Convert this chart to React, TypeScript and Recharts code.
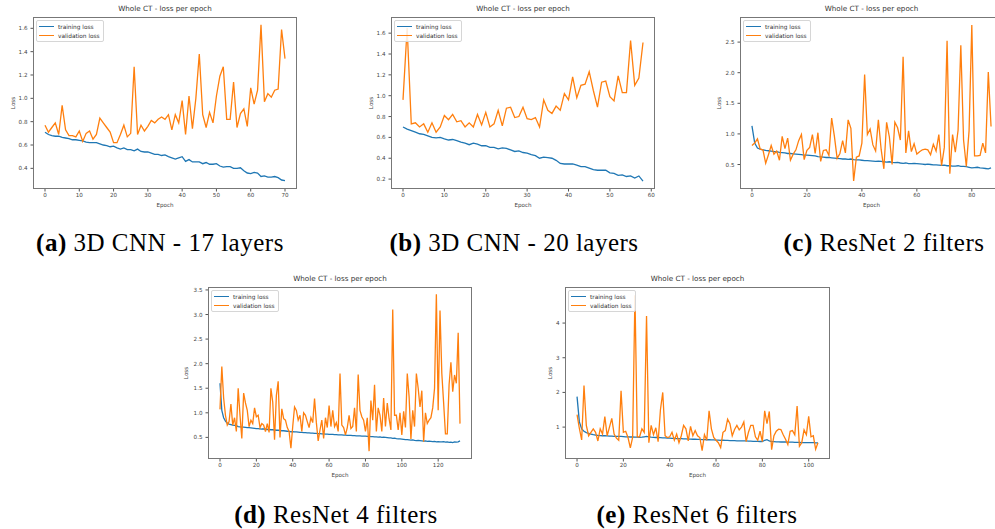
import { LineChart, Line, XAxis, YAxis } from 'recharts';

const BLUE = '#1f77b4';
const ORANGE = '#ff7f0e';

// (a) 3D CNN - 17 layers
const aTrain = [
  0.71, 0.69, 0.68, 0.675, 0.675, 0.665, 0.66, 0.655, 0.645, 0.645,
  0.64, 0.635, 0.625, 0.62, 0.62, 0.62, 0.61, 0.6, 0.595, 0.585,
  0.59, 0.575, 0.565, 0.575, 0.56, 0.56, 0.55, 0.565, 0.545, 0.54,
  0.54, 0.53, 0.52, 0.52, 0.51, 0.515, 0.5, 0.49, 0.48, 0.49,
  0.5, 0.46, 0.475, 0.455, 0.455, 0.455, 0.44, 0.45, 0.435, 0.435,
  0.44, 0.42, 0.41, 0.415, 0.415, 0.4, 0.4, 0.405, 0.38, 0.36,
  0.355, 0.365, 0.36, 0.33, 0.335, 0.325, 0.325, 0.33, 0.32, 0.3,
  0.295,
];
const aVal = [
  0.77, 0.71, 0.75, 0.79, 0.69, 0.94, 0.73, 0.68, 0.68, 0.67,
  0.72, 0.63, 0.7, 0.72, 0.65, 0.69, 0.83, 0.79, 0.75, 0.71,
  0.62, 0.62, 0.69, 0.77, 0.67, 0.7, 1.27, 0.69, 0.77, 0.72,
  0.76, 0.81, 0.79, 0.82, 0.84, 0.82, 0.86, 0.73, 0.86, 0.79,
  0.98, 0.69, 1.02, 0.74, 1.0, 1.38, 0.86, 0.75, 0.88, 0.79,
  1.02, 1.19, 1.27, 0.82, 0.82, 1.14, 0.75, 0.87, 0.91, 0.76,
  1.09, 0.95, 1.07, 1.63, 0.97, 1.04, 1.01, 1.07, 1.08, 1.59,
  1.34,
];

// (b) 3D CNN - 20 layers
const bTrain = [
  0.7, 0.68, 0.665, 0.65, 0.635, 0.63, 0.615, 0.6, 0.595, 0.6,
  0.585, 0.575, 0.58, 0.57, 0.555, 0.545, 0.53, 0.545, 0.535, 0.52,
  0.52, 0.505, 0.505, 0.49, 0.5, 0.495, 0.48, 0.465, 0.47, 0.455,
  0.45, 0.435, 0.425, 0.4, 0.41, 0.405, 0.4, 0.38, 0.35, 0.345,
  0.345, 0.345, 0.335, 0.32, 0.32, 0.305, 0.29, 0.285, 0.285, 0.285,
  0.26, 0.255, 0.235, 0.24, 0.225, 0.23, 0.21, 0.23, 0.18,
];
const bVal = [
  0.96, 1.65, 0.73, 0.74, 0.7, 0.73, 0.65, 0.74, 0.65, 0.7,
  0.81, 0.77, 0.82, 0.75, 0.76, 0.7, 0.74, 0.7, 0.82, 0.72,
  0.84, 0.7, 0.73, 0.86, 0.71, 0.88, 0.89, 0.79, 0.8, 0.89,
  0.78, 0.77, 0.79, 0.7, 0.96, 0.86, 0.83, 0.9, 0.86, 1.02,
  0.96, 1.18, 0.98, 1.1, 1.11, 1.23, 1.05, 0.89, 1.13, 1.14,
  0.99, 0.95, 1.19, 1.03, 1.03, 1.53, 1.1, 1.17, 1.51,
];

// (c) ResNet 2 filters
const cTrain = [
  1.13, 0.85, 0.77, 0.75, 0.74, 0.73, 0.725, 0.72, 0.71, 0.71,
  0.7, 0.695, 0.69, 0.68, 0.68, 0.675, 0.67, 0.665, 0.66, 0.655,
  0.655, 0.65, 0.645, 0.64, 0.63, 0.625, 0.62, 0.615, 0.615, 0.61,
  0.605, 0.6, 0.595, 0.59, 0.59, 0.585, 0.59, 0.58, 0.575, 0.575,
  0.57, 0.565, 0.565, 0.56, 0.555, 0.55, 0.555, 0.55, 0.545, 0.54,
  0.545, 0.535, 0.53, 0.535, 0.525, 0.52, 0.525, 0.515, 0.515, 0.52,
  0.515, 0.51, 0.505, 0.5, 0.505, 0.5, 0.495, 0.495, 0.49, 0.485,
  0.49, 0.48, 0.48, 0.475, 0.475, 0.48, 0.47, 0.47, 0.465, 0.455,
  0.445, 0.45, 0.455, 0.445, 0.44, 0.435, 0.43, 0.445,
];
const cVal = [
  0.81, 0.85, 0.92, 0.75, 0.74, 0.52, 0.66, 0.81, 0.67, 0.72,
  0.57, 0.96, 0.76, 0.93, 0.57, 0.67, 0.74, 0.89, 0.99, 0.58,
  0.73, 0.78, 0.99, 0.68, 1.02, 0.55, 0.73, 0.74, 0.65, 1.26,
  0.96, 0.6, 0.68, 0.89, 0.69, 1.23, 1.09, 0.23, 0.62, 0.64,
  0.85, 1.97, 0.99, 1.08, 0.82, 0.72, 1.23, 0.75, 0.43, 1.19,
  0.95, 0.5, 1.19, 1.1, 0.9, 2.26, 0.69, 1.05, 0.71, 0.84,
  0.67, 0.71, 0.74, 0.75, 0.74, 0.66, 0.83, 0.72, 0.99, 0.48,
  0.78, 2.52, 0.35, 0.99, 0.7, 1.06, 2.45, 0.9, 0.47, 1.05,
  2.78, 0.64, 0.64, 0.65, 0.85, 0.69, 2.01, 1.12,
];

// (d) ResNet 4 filters
const dTrain = [
  1.6, 1.05, 0.9, 0.83, 0.79, 0.77, 0.76, 0.75, 0.745, 0.74,
  0.72, 0.715, 0.71, 0.71, 0.705, 0.7, 0.7, 0.695, 0.69, 0.685,
  0.68, 0.68, 0.675, 0.67, 0.67, 0.665, 0.66, 0.66, 0.655, 0.655,
  0.65, 0.645, 0.645, 0.64, 0.635, 0.635, 0.63, 0.625, 0.62, 0.615,
  0.615, 0.61, 0.61, 0.605, 0.6, 0.6, 0.595, 0.595, 0.59, 0.59,
  0.585, 0.585, 0.58, 0.58, 0.575, 0.575, 0.57, 0.57, 0.565, 0.565,
  0.56, 0.56, 0.56, 0.555, 0.555, 0.55, 0.55, 0.55, 0.545, 0.545,
  0.54, 0.54, 0.54, 0.535, 0.535, 0.53, 0.53, 0.53, 0.525, 0.525,
  0.525, 0.52, 0.52, 0.515, 0.515, 0.51, 0.51, 0.505, 0.51, 0.5,
  0.505, 0.5, 0.495, 0.49, 0.49, 0.48, 0.485, 0.475, 0.47, 0.47,
  0.465, 0.46, 0.455, 0.455, 0.45, 0.445, 0.45, 0.44, 0.435, 0.44,
  0.435, 0.43, 0.425, 0.43, 0.42, 0.425, 0.42, 0.415, 0.42, 0.41,
  0.415, 0.41, 0.41, 0.415, 0.405, 0.41, 0.4, 0.405, 0.395, 0.41,
  0.405, 0.41, 0.43,
];
const dVal = [
  1.07, 1.94, 1.3, 0.95, 0.75, 0.82, 1.18, 0.75, 0.9, 0.62,
  1.5, 0.95, 0.48, 1.4, 1.2, 1.05, 0.72, 0.85, 0.78, 1.1,
  0.92, 0.95, 0.7, 0.78, 0.75, 0.62, 0.78, 0.6, 1.5, 1.22,
  0.45, 1.35, 1.64, 0.5, 1.08, 0.88, 0.85, 0.7, 0.62, 0.28,
  0.72, 1.12, 1.05, 0.85, 0.95, 0.62, 1.0, 0.95, 0.82, 0.7,
  0.9, 0.8, 1.29, 0.8, 0.43, 0.65, 0.85, 0.48, 0.9, 0.7,
  1.15, 0.72, 1.05, 0.72, 0.8, 0.62, 1.8, 0.75, 0.7, 0.55,
  0.7, 0.95, 0.68, 0.72, 1.1, 0.62, 1.78, 1.05, 0.92, 0.85,
  0.62, 0.9, 0.22, 1.25, 0.85, 1.57, 0.62, 1.1, 0.95, 0.62,
  1.3, 0.72, 1.2, 0.88, 0.65, 3.1, 0.95, 0.95, 0.65, 1.0,
  0.55, 1.03, 0.7, 1.8, 1.33, 0.47, 1.05, 0.72, 1.8, 1.5,
  1.12, 1.45, 0.41, 1.0, 0.78, 0.85, 0.9, 1.1, 1.5, 3.41,
  1.05, 3.08, 1.8, 1.2, 0.57, 0.57, 1.57, 2.03, 1.43, 1.77,
  1.6, 2.63, 0.78,
];

// (e) ResNet 6 filters
const eTrain = [
  1.88, 1.15, 0.95, 0.88, 0.84, 0.82, 0.8, 0.78, 0.77, 0.76,
  0.755, 0.75, 0.75, 0.745, 0.74, 0.74, 0.735, 0.735, 0.73, 0.73,
  0.725, 0.72, 0.72, 0.715, 0.715, 0.71, 0.71, 0.705, 0.71, 0.72,
  0.73, 0.72, 0.71, 0.705, 0.7, 0.7, 0.695, 0.69, 0.69, 0.685,
  0.68, 0.675, 0.675, 0.67, 0.67, 0.665, 0.66, 0.66, 0.655, 0.655,
  0.65, 0.65, 0.645, 0.645, 0.64, 0.64, 0.635, 0.635, 0.63, 0.63,
  0.625, 0.625, 0.62, 0.62, 0.615, 0.615, 0.61, 0.61, 0.61, 0.605,
  0.605, 0.6, 0.6, 0.6, 0.595, 0.595, 0.59, 0.59, 0.59, 0.585,
  0.585, 0.62, 0.64, 0.6, 0.58, 0.58, 0.575, 0.575, 0.57, 0.57,
  0.57, 0.565, 0.565, 0.565, 0.56, 0.56, 0.56, 0.555, 0.555, 0.555,
  0.55, 0.55, 0.55, 0.545, 0.545,
];
const eVal = [
  1.36, 0.96, 0.63, 2.2, 1.05, 0.75, 0.85, 0.95, 0.85, 0.6,
  0.95, 0.8, 1.3, 0.75, 1.0, 1.25, 0.8, 0.68, 0.62, 2.05,
  0.85, 0.88, 0.7, 0.4, 0.7, 4.8, 0.72, 0.72, 0.95, 0.85,
  4.2, 0.55, 1.05, 0.78, 0.98, 0.58, 1.5, 2.0, 0.75, 0.7,
  0.72, 0.85, 0.62, 0.8, 0.55, 0.75, 1.05, 0.95, 0.6, 1.02,
  0.75, 0.9, 0.75, 0.7, 0.32, 0.78, 0.62, 1.47, 0.95, 0.7,
  0.62, 0.55, 0.41, 0.85, 0.9, 1.23, 1.1, 0.75, 0.93, 1.05,
  0.92, 1.0, 1.15, 0.58, 0.85, 1.05, 1.05, 0.72, 0.62, 0.88,
  0.58, 1.47, 1.1, 1.45, 0.35, 0.75, 0.88, 0.94, 0.93, 0.78,
  0.65, 0.5, 0.88, 0.9, 0.78, 1.61, 0.45, 0.55, 0.92, 0.78,
  1.31, 0.72, 0.75, 0.36, 0.55,
];

const aXTicks = [0, 10, 20, 30, 40, 50, 60, 70];
const bXTicks = [0, 10, 20, 30, 40, 50, 60];
const cXTicks = [0, 20, 40, 60, 80];
const dXTicks = [0, 20, 40, 60, 80, 100, 120];
const eXTicks = [0, 20, 40, 60, 80, 100];

const aYTicks = [0.4, 0.6, 0.8, 1.0, 1.2, 1.4, 1.6];
const bYTicks = [0.2, 0.4, 0.6, 0.8, 1.0, 1.2, 1.4, 1.6];
const cYTicks = [0.5, 1.0, 1.5, 2.0, 2.5];
const dYTicks = [0.5, 1.0, 1.5, 2.0, 2.5, 3.0, 3.5];
const eYTicks = [1, 2, 3, 4];

const PAD_L = 40;
const PAD_T = 4;
const PAD_R = 4;
const AXIS_H = 24;
const SANS = 'DejaVu Sans, sans-serif';
const TEXT = '#444';

type Box = { x: number; y: number; w: number; h: number };

type PanelProps = {
  box: Box;
  train: number[];
  val: number[];
  xDomain: [number, number];
  xTicks: number[];
  yDomain: [number, number];
  yTicks: number[];
  fmt: (v: number) => string;
  lossGap: number;
};

const oneDecimal = (v: number) => v.toFixed(1);
const integer = (v: number) => String(v);

function LossPanel({ box, train, val, xDomain, xTicks, yDomain, yTicks, fmt, lossGap }: PanelProps) {
  const data = val.map((v, i) => ({ epoch: i, train: train[i], val: v }));
  return (
    <>
      <div
        style={{
          position: 'absolute',
          left: box.x,
          top: box.y - 13,
          width: box.w,
          textAlign: 'center',
          fontFamily: SANS,
          fontSize: 7.2,
          lineHeight: '10px',
          color: '#333',
        }}
      >
        Whole CT - loss per epoch
      </div>
      <div style={{ position: 'absolute', left: box.x - PAD_L, top: box.y - PAD_T }}>
        <LineChart
          width={box.w + PAD_L + PAD_R}
          height={box.h + PAD_T + AXIS_H}
          data={data}
          margin={{ top: PAD_T, right: PAD_R, bottom: 0, left: 0 }}
        >
          <XAxis
            dataKey="epoch"
            type="number"
            domain={xDomain}
            ticks={xTicks}
            interval={0}
            allowDataOverflow
            axisLine={false}
            stroke="#555"
            tickSize={2.5}
            tickMargin={1.5}
            height={AXIS_H}
            tick={{ fontSize: 5.6, fill: TEXT, fontFamily: SANS }}
            label={{ value: 'Epoch', position: 'insideBottom', offset: 6, fontSize: 5.6, fill: TEXT, fontFamily: SANS }}
          />
          <YAxis
            type="number"
            domain={yDomain}
            ticks={yTicks}
            interval={0}
            allowDataOverflow
            axisLine={false}
            stroke="#555"
            tickSize={2.5}
            tickMargin={3}
            width={PAD_L}
            tickFormatter={fmt}
            tick={{ fontSize: 5.6, fill: TEXT, fontFamily: SANS }}
            label={{
              value: 'Loss',
              angle: -90,
              position: 'insideLeft',
              offset: PAD_L - lossGap,
              fontSize: 5.6,
              fill: TEXT,
              fontFamily: SANS,
              style: { textAnchor: 'middle' },
            }}
          />
          <Line type="linear" dataKey="train" stroke={BLUE} strokeWidth={1.3} dot={false} isAnimationActive={false} />
          <Line type="linear" dataKey="val" stroke={ORANGE} strokeWidth={1.3} dot={false} isAnimationActive={false} />
        </LineChart>
        <div
          style={{
            position: 'absolute',
            left: PAD_L,
            top: PAD_T,
            width: box.w,
            height: box.h,
            border: '1px solid #777',
            boxSizing: 'border-box',
            pointerEvents: 'none',
          }}
        />
      </div>
      <div
        style={{
          position: 'absolute',
          left: box.x + 3,
          top: box.y + 3,
          padding: '1px 3px 1px 2px',
          background: 'rgba(255,255,255,0.85)',
          border: '1px solid #d6d6d6',
          borderRadius: 2,
          fontFamily: SANS,
          fontSize: 5.8,
          color: '#333',
        }}
      >
        {[
          ['training loss', BLUE],
          ['validation loss', ORANGE],
        ].map(([name, color]) => (
          <div key={name} style={{ display: 'flex', alignItems: 'center', height: 9 }}>
            <span style={{ display: 'inline-block', width: 15, height: 1.3, background: color, marginRight: 4 }} />
            <span>{name}</span>
          </div>
        ))}
      </div>
    </>
  );
}

function Caption({ cx, cy, tag, text }: { cx: number; cy: number; tag: string; text: string }) {
  return (
    <div
      style={{
        position: 'absolute',
        left: cx - 200,
        top: cy - 16,
        width: 400,
        textAlign: 'center',
        fontFamily: '"Liberation Serif", serif',
        fontSize: 25,
        lineHeight: '32px',
        letterSpacing: 0.5,
        color: '#000',
        whiteSpace: 'nowrap',
      }}
    >
      <b>{tag}</b> {text}
    </div>
  );
}

export default function App() {
  return (
    <div
      style={{
        position: 'absolute',
        left: 0,
        top: 0,
        width: 995,
        height: 529,
        overflow: 'hidden',
        background: '#fff',
      }}
    >
      <LossPanel
        box={{ x: 33, y: 17, w: 264, h: 172 }}
        train={aTrain}
        val={aVal}
        xDomain={[-3.5, 73.5]}
        xTicks={aXTicks}
        yDomain={[0.223, 1.697]}
        yTicks={aYTicks}
        fmt={oneDecimal}
        lossGap={20}
      />
      <LossPanel
        box={{ x: 391, y: 17, w: 264, h: 172 }}
        train={bTrain}
        val={bVal}
        xDomain={[-2.9, 60.9]}
        xTicks={bXTicks}
        yDomain={[0.105, 1.755]}
        yTicks={bYTicks}
        fmt={oneDecimal}
        lossGap={20}
      />
      <LossPanel
        box={{ x: 740, y: 17, w: 263, h: 172 }}
        train={cTrain}
        val={cVal}
        xDomain={[-4.35, 91.35]}
        xTicks={cXTicks}
        yDomain={[0.1, 2.91]}
        yTicks={cYTicks}
        fmt={oneDecimal}
        lossGap={21}
      />
      <LossPanel
        box={{ x: 208, y: 287, w: 264, h: 172 }}
        train={dTrain}
        val={dVal}
        xDomain={[-6.6, 138.6]}
        xTicks={dXTicks}
        yDomain={[0.06, 3.56]}
        yTicks={dYTicks}
        fmt={oneDecimal}
        lossGap={22}
      />
      <LossPanel
        box={{ x: 565, y: 287, w: 265, h: 172 }}
        train={eTrain}
        val={eVal}
        xDomain={[-5.2, 109.2]}
        xTicks={eXTicks}
        yDomain={[0.08, 5.04]}
        yTicks={eYTicks}
        fmt={integer}
        lossGap={15}
      />
      <Caption cx={160} cy={243} tag="(a)" text="3D CNN - 17 layers" />
      <Caption cx={514} cy={243} tag="(b)" text="3D CNN - 20 layers" />
      <Caption cx={884} cy={243} tag="(c)" text="ResNet 2 filters" />
      <Caption cx={336} cy={515} tag="(d)" text="ResNet 4 filters" />
      <Caption cx={697} cy={515} tag="(e)" text="ResNet 6 filters" />
    </div>
  );
}
